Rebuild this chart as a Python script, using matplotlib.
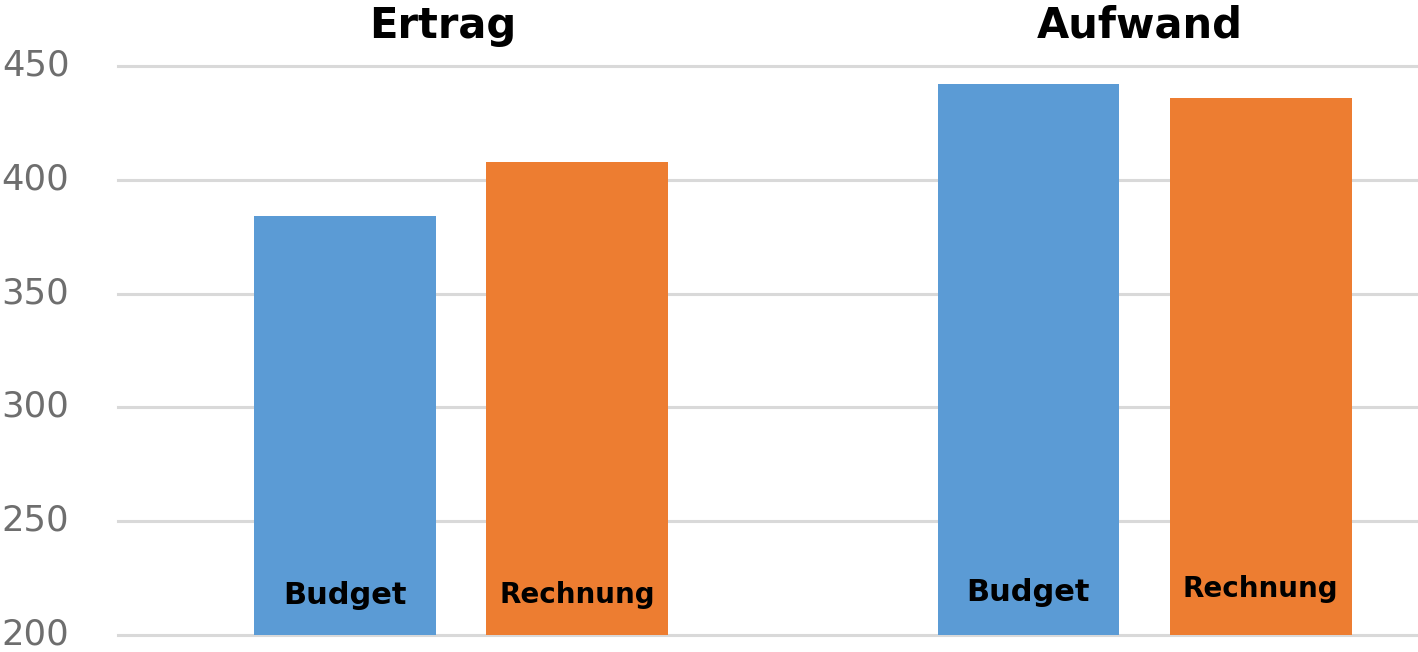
import matplotlib
matplotlib.use("Agg")
import matplotlib.pyplot as plt
import matplotlib.transforms as mtransforms
import numpy as np

groups = ["Ertrag", "Aufwand"]
series = ["Budget", "Rechnung"]
budget = [384, 442]
rechnung = [408, 436]
yticks = [200, 250, 300, 350, 400, 450]

colors = {"Budget": "#5B9BD5", "Rechnung": "#ED7D31"}

fig = plt.figure(figsize=(14.18, 6.52), dpi=100)
ax = fig.add_axes([118/1418, (652-635)/652, 1300/1418, 569/652])

x = np.arange(len(groups))
w = 0.266
off = 0.17
ax.bar(x - off, budget, width=w, color=colors["Budget"], zorder=3)
ax.bar(x + off, rechnung, width=w, color=colors["Rechnung"], zorder=3)

ax.set_ylim(200, 450)
ax.set_xlim(-0.502, 1.400)
ax.set_yticks(yticks)
ax.set_yticklabels([str(t) for t in yticks], fontsize=25.5, color="#6E6E6E")
ax.tick_params(axis="y", length=0, pad=35)
ax.set_xticks([])
for s in ax.spines.values():
    s.set_visible(False)
ax.grid(axis="y", color="#D9D9D9", linewidth=2.2, zorder=0)
ax.set_axisbelow(True)
for gl in ax.get_ygridlines():
    gl.set_clip_on(False)

shift = mtransforms.ScaledTranslation(0, 4/100, fig.dpi_scale_trans)
for lbl in ax.get_yticklabels():
    lbl.set_transform(lbl.get_transform() + shift)

# bar labels inside bars
label_y_b = [213.6, 215.0]
label_y_r = [214.0, 216.8]
for i in range(len(groups)):
    ax.text(x[i] - off, label_y_b[i], "Budget", ha="center", va="baseline",
            fontsize=22, fontweight="bold", color="black", zorder=4)
    ax.text(x[i] + off, label_y_r[i], "Rechnung", ha="center", va="baseline",
            fontsize=20, fontweight="bold", color="black", zorder=4)

# group titles
title_x = [443, 1140]
for g, tx in zip(groups, title_x):
    fig.text(tx/1418, 1 - 38/652, g, ha="center", va="baseline",
             fontsize=30, fontweight="bold", color="black")

fig.savefig("out.png", dpi=100)
